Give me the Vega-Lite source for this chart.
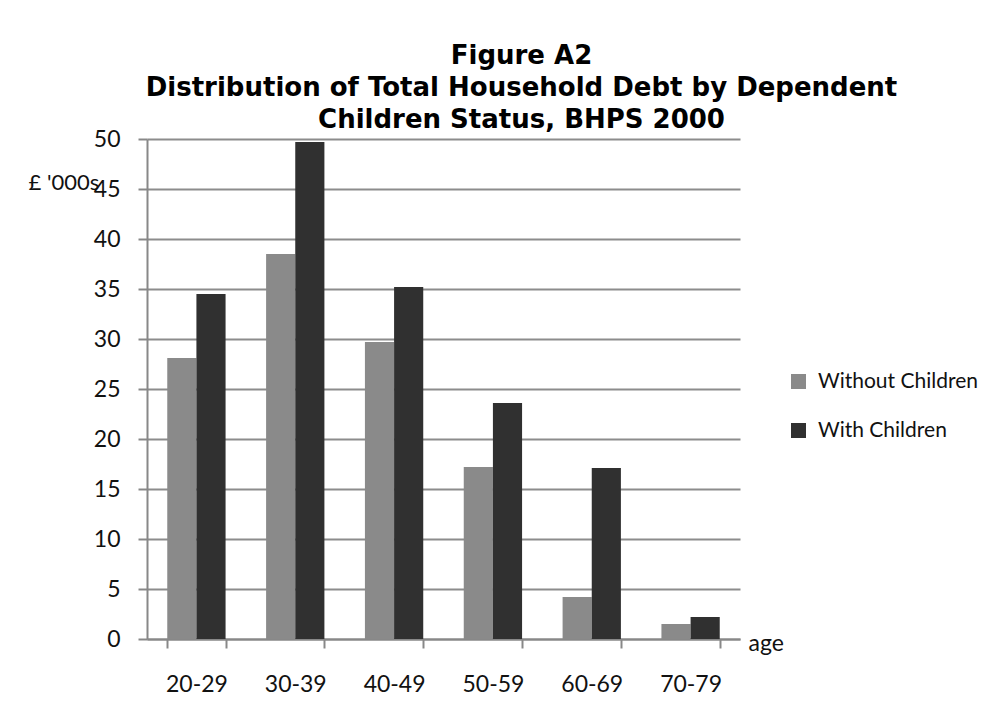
{
  "$schema": "https://vega.github.io/schema/vega-lite/v6.json",
  "width": 593,
  "height": 500,
  "autosize": "none",
  "padding": {"left": 147, "top": 139, "right": 260, "bottom": 76},
  "background": "white",
  "title": {
    "text": ["Figure A2", "Distribution of Total Household Debt by Dependent", "Children Status, BHPS 2000"],
    "font": "DejaVu Sans",
    "fontWeight": "bold",
    "fontSize": 26,
    "lineHeight": 32,
    "anchor": "middle",
    "frame": "group",
    "dx": 78,
    "offset": -5,
    "color": "#000000"
  },
  "data": {
    "values": [
      {"age": "20-29", "status": "Without Children", "debt": 28.1},
      {"age": "20-29", "status": "With Children", "debt": 34.5},
      {"age": "30-39", "status": "Without Children", "debt": 38.5},
      {"age": "30-39", "status": "With Children", "debt": 49.7},
      {"age": "40-49", "status": "Without Children", "debt": 29.7},
      {"age": "40-49", "status": "With Children", "debt": 35.2},
      {"age": "50-59", "status": "Without Children", "debt": 17.2},
      {"age": "50-59", "status": "With Children", "debt": 23.6},
      {"age": "60-69", "status": "Without Children", "debt": 4.2},
      {"age": "60-69", "status": "With Children", "debt": 17.1},
      {"age": "70-79", "status": "Without Children", "debt": 1.5},
      {"age": "70-79", "status": "With Children", "debt": 2.2}
    ]
  },
  "mark": {"type": "bar"},
  "encoding": {
    "x": {
      "field": "age",
      "type": "nominal",
      "sort": null,
      "scale": {"paddingInner": 0.41, "paddingOuter": 0.205},
      "axis": {
        "labelAngle": 0,
        "labelFont": "Lato",
        "labelFontSize": 23,
        "labelColor": "#111111",
        "labelPadding": 25,
        "domainColor": "#888888",
        "domainWidth": 2,
        "tickColor": "#888888",
        "tickWidth": 2,
        "tickSize": 9,
        "tickBand": "extent",
        "title": "age",
        "titleFont": "Lato",
        "titleFontSize": 23,
        "titleFontWeight": "normal",
        "titleColor": "#111111",
        "titleX": 601,
        "titleY": 11,
        "titleAlign": "left",
        "titleBaseline": "alphabetic",
        "titleAngle": 0
      }
    },
    "xOffset": {
      "field": "status",
      "sort": ["Without Children", "With Children"],
      "scale": {"paddingInner": 0, "paddingOuter": 0}
    },
    "y": {
      "field": "debt",
      "type": "quantitative",
      "scale": {"domain": [0, 50], "nice": false},
      "axis": {
        "values": [0, 5, 10, 15, 20, 25, 30, 35, 40, 45, 50],
        "labelFont": "Lato",
        "labelFontSize": 23,
        "labelColor": "#111111",
        "labelPadding": 18,
        "domainColor": "#888888",
        "domainWidth": 2,
        "tickColor": "#888888",
        "tickWidth": 2,
        "tickSize": 9,
        "grid": true,
        "gridColor": "#8c8c8c",
        "gridWidth": 2,
        "title": "£ '000s",
        "titleFont": "Lato",
        "titleFontSize": 22,
        "titleFontWeight": "normal",
        "titleColor": "#111111",
        "titleAngle": 0,
        "titleX": -119,
        "titleY": 43,
        "titleAlign": "left",
        "titleBaseline": "middle"
      }
    },
    "color": {
      "field": "status",
      "type": "nominal",
      "sort": ["Without Children", "With Children"],
      "scale": {"domain": ["Without Children", "With Children"], "range": ["#8a8a8a", "#303030"]},
      "legend": {
        "orient": "none",
        "legendX": 641,
        "legendY": 232,
        "title": null,
        "symbolType": "square",
        "symbolSize": 225,
        "symbolStrokeWidth": 0,
        "labelFont": "Lato",
        "labelFontSize": 21,
        "labelColor": "#111111",
        "labelOffset": 9,
        "rowPadding": 27,
        "padding": 0
      }
    }
  },
  "config": {"view": {"stroke": null}}
}
